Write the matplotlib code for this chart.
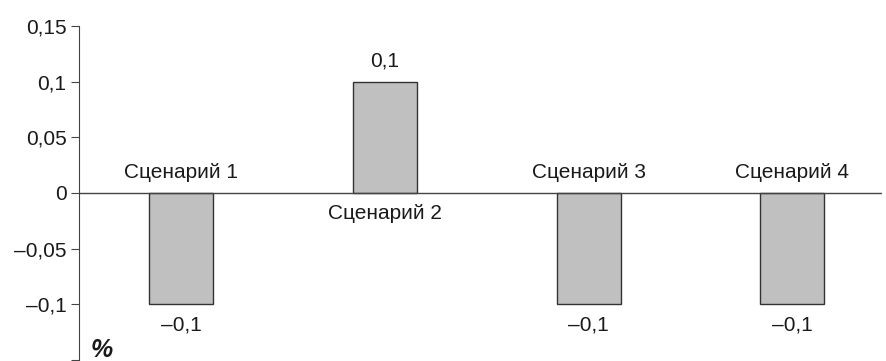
import matplotlib.pyplot as plt

scenarios = ['Сценарий 1', 'Сценарий 2', 'Сценарий 3', 'Сценарий 4']
values = [-0.1, 0.1, -0.1, -0.1]
yticks = [-0.15, -0.1, -0.05, 0, 0.05, 0.1, 0.15]


def fmt(v):
    if v == 0:
        return '0'
    s = ('%g' % abs(v)).replace('.', ',')
    return ('–' if v < 0 else '') + s


plt.rcParams['font.family'] = ['Liberation Sans', 'DejaVu Sans']
fs = 15

fig = plt.figure(figsize=(8.87, 3.61), dpi=100)
ax = fig.add_axes([79 / 887, 1 / 361, (882 - 79) / 887, (360 - 26) / 361])

x = list(range(len(scenarios)))
ax.bar(x, values, width=0.314, color='#c0c0c0', edgecolor='#333333', linewidth=1, zorder=2)
ax.axhline(0, color='#444444', lw=1, zorder=3)

for xi, v, name in zip(x, values, scenarios):
    sgn = 1 if v > 0 else -1
    ax.annotate(fmt(v), (xi, v), xytext=(0, 15 * sgn), textcoords='offset points',
                ha='center', va='center', fontsize=fs, color='#1a1a1a')
    ax.annotate(name, (xi, 0), xytext=(0, -15 * sgn), textcoords='offset points',
                ha='center', va='center', fontsize=fs, color='#1a1a1a')

ax.set_xlim(-0.5, 3.44)
ax.set_ylim(-0.15, 0.15)
ax.set_yticks(yticks)
ax.set_yticklabels(['' if t == -0.15 else fmt(t) for t in yticks], fontsize=fs, color='#1a1a1a')
ax.set_xticks([])
for s in ['top', 'right', 'bottom']:
    ax.spines[s].set_visible(False)
ax.spines['left'].set_color('#444444')
ax.tick_params(axis='y', length=6, color='#444444', pad=3)

ax.text(-0.39, -0.141, '%', fontsize=18, fontweight='bold', style='italic',
        ha='center', va='center', color='#1a1a1a')

fig.savefig('out.png', dpi=100)
